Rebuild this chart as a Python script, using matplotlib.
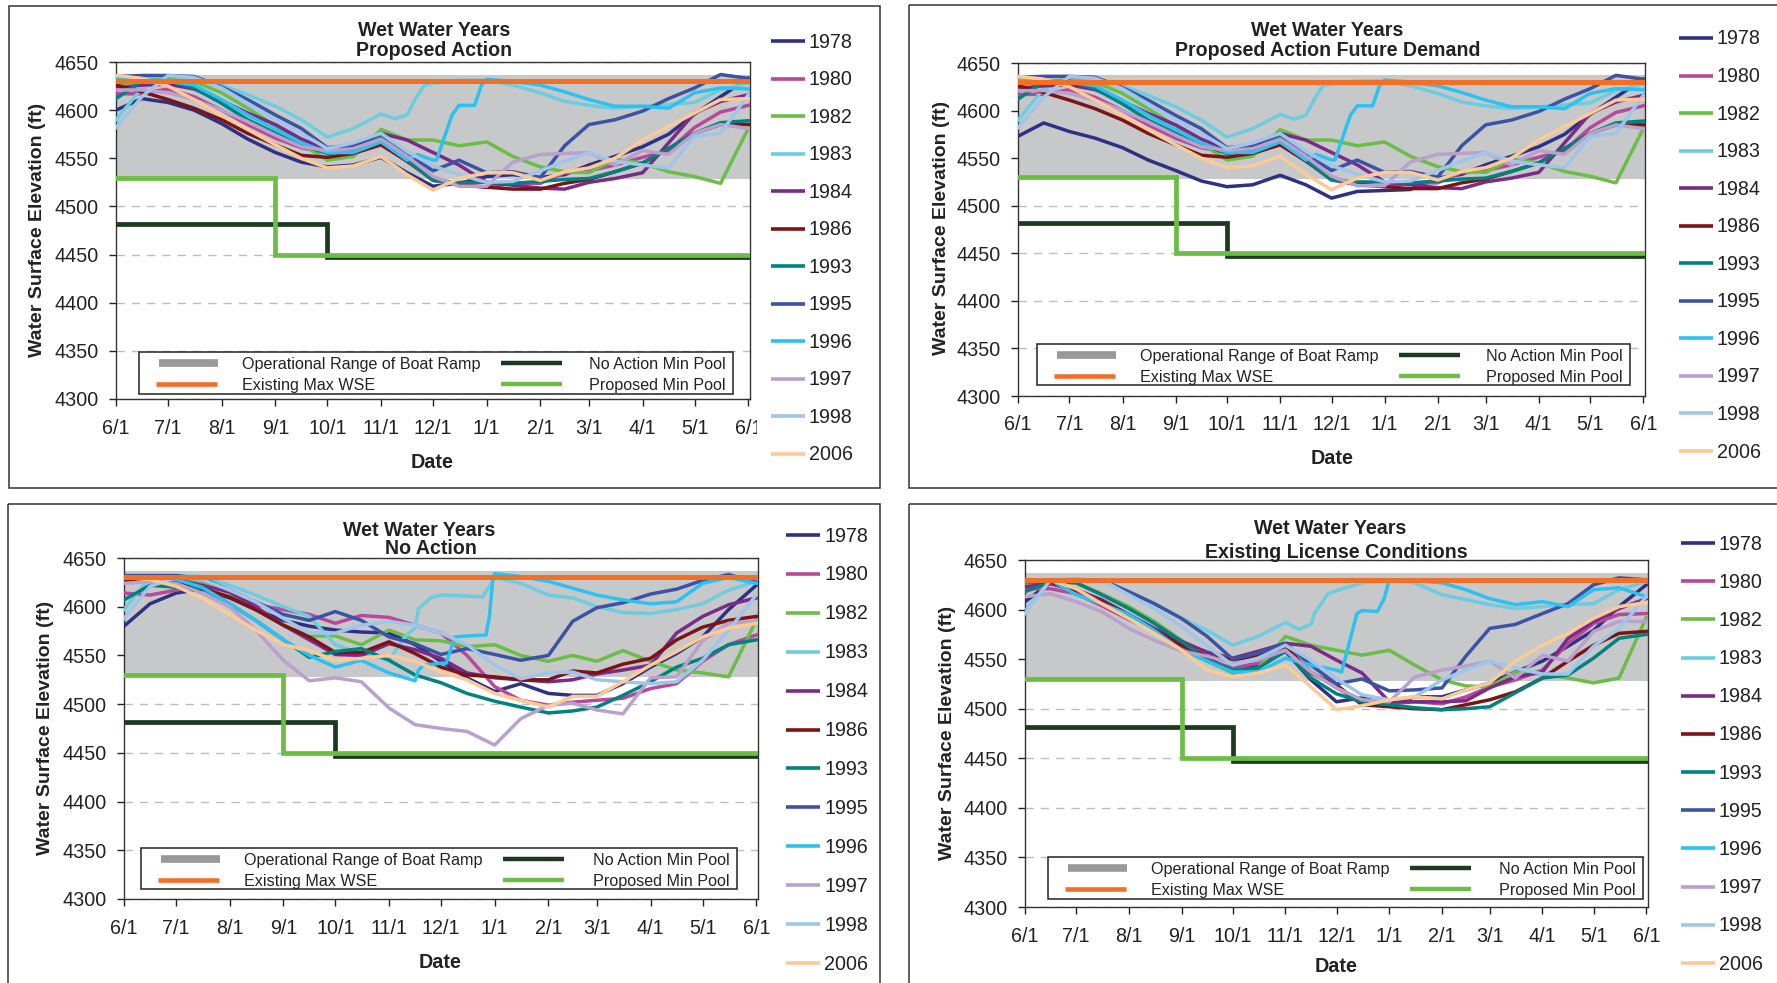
import matplotlib
matplotlib.use("Agg")
import matplotlib.pyplot as plt
from matplotlib.patches import Rectangle
from matplotlib.transforms import Bbox

plt.rcParams["font.family"] = ["Liberation Sans", "DejaVu Sans"]

W, H = 1777, 983

days = [0, 15, 30, 45, 61, 76, 92, 107, 122, 137, 153, 168, 183, 198, 214, 229, 245, 259, 273, 288, 304, 319, 334, 349, 365]
month_days = [0, 30, 61, 92, 122, 153, 183, 214, 245, 273, 304, 334, 365]
month_labels = ["6/1", "7/1", "8/1", "9/1", "10/1", "11/1", "12/1", "1/1", "2/1", "3/1", "4/1", "5/1", "6/1"]
y_ticks = [4300, 4350, 4400, 4450, 4500, 4550, 4600, 4650]

years = ["1978", "1980", "1982", "1983", "1984", "1986", "1993", "1995", "1996", "1997", "1998", "2006"]
year_colors = ["#2e3183", "#b9479b", "#6abd45", "#6dcde0", "#7b2a87", "#7d1315", "#00827e",
               "#3b53a5", "#2cc1f0", "#b9a0cd", "#9fc6ea", "#fdca96"]

# reference lines
band_low, band_high = 4528, 4637
max_wse = 4630
proposed_x = [0, 92, 92, 365]
proposed_y = [4530, 4530, 4450, 4450]
no_action_x = [0, 122, 122, 365]
no_action_y = [4482, 4482, 4447, 4447]

# Proposed Action
pa_1978 = [4600, 4612, 4608, 4600, 4586, 4570, 4556, 4546, 4541, 4543, 4551, 4535, 4521, 4524, 4531, 4533, 4530, 4533, 4543, 4552, 4562, 4575, 4596, 4614, 4633]
pa_1980 = [4617, 4617, 4622, 4614, 4600, 4585, 4571, 4561, 4556, 4556, 4566, 4547, 4527, 4522, 4520, 4524, 4524, 4535, 4537, 4543, 4551, 4558, 4582, 4598, 4605]
pa_1982 = [4627, 4630, 4633, 4630, 4618, 4602, 4584, 4565, 4548, 4552, 4580, 4569, 4569, 4563, 4567, 4552, 4541, 4536, 4535, 4549, 4545, 4536, 4531, 4524, 4581]
pa_1983 = [4590, 4623, 4635, 4634, 4626, 4616, 4604, 4590, 4572, 4581, 4596, 4591, 4595, 4612, 4626, 4628, 4631, 4631, 4626, 4618, 4609, 4605, 4602, 4604, 4606, 4608, 4621, 4628]
pa_1984 = [4623, 4626, 4627, 4622, 4610, 4597, 4585, 4570, 4559, 4562, 4576, 4569, 4556, 4543, 4525, 4522, 4519, 4518, 4525, 4529, 4535, 4566, 4597, 4609, 4616]
pa_1986 = [4626, 4619, 4611, 4602, 4590, 4576, 4564, 4553, 4551, 4555, 4564, 4547, 4529, 4523, 4520, 4518, 4518, 4524, 4528, 4536, 4545, 4560, 4576, 4585, 4585]
pa_1993 = [4612, 4630, 4631, 4623, 4607, 4590, 4576, 4564, 4555, 4559, 4572, 4548, 4527, 4525, 4525, 4524, 4526, 4528, 4529, 4536, 4545, 4560, 4576, 4587, 4589]
pa_1995 = [4635, 4636, 4636, 4635, 4624, 4611, 4595, 4581, 4561, 4564, 4576, 4555, 4537, 4548, 4535, 4536, 4530, 4563, 4585, 4590, 4599, 4612, 4623, 4637, 4633]
pa_1996 = [4633, 4632, 4630, 4626, 4611, 4595, 4580, 4566, 4556, 4556, 4567, 4548, 4554, 4548, 4548, 4595, 4605, 4605, 4626, 4632, 4630, 4626, 4619, 4611, 4604, 4604, 4602, 4618, 4623, 4622]
pa_1997 = [4621, 4621, 4618, 4611, 4600, 4588, 4574, 4562, 4558, 4560, 4570, 4552, 4531, 4521, 4521, 4546, 4554, 4555, 4556, 4543, 4558, 4554, 4576, 4585, 4581]
pa_1998 = [4582, 4614, 4636, 4634, 4623, 4607, 4590, 4576, 4560, 4566, 4576, 4557, 4542, 4533, 4525, 4526, 4537, 4547, 4556, 4547, 4543, 4540, 4573, 4576, 4616]
pa_2006 = [4636, 4633, 4625, 4611, 4595, 4580, 4564, 4550, 4540, 4542, 4552, 4533, 4517, 4529, 4535, 4535, 4527, 4536, 4540, 4550, 4569, 4583, 4597, 4611, 4612]

# Proposed Action Future Demand: only 1978 moves away from Proposed Action
pf_1978 = [4573, 4587, 4578, 4571, 4561, 4548, 4537, 4526, 4520, 4522, 4532, 4522, 4508, 4515, 4516, 4517, 4529, 4533, 4543, 4552, 4562, 4575, 4596, 4614, 4633]

# No Action
na_1978 = [4580, 4603, 4614, 4618, 4609, 4597, 4586, 4580, 4576, 4574, 4573, 4561, 4544, 4527, 4513, 4521, 4511, 4509, 4509, 4521, 4538, 4552, 4569, 4597, 4622]
na_1980 = [4614, 4612, 4617, 4622, 4617, 4602, 4597, 4592, 4583, 4591, 4589, 4581, 4573, 4550, 4518, 4504, 4499, 4502, 4504, 4506, 4516, 4521, 4544, 4561, 4571]
na_1982 = [4625, 4628, 4631, 4626, 4614, 4597, 4581, 4570, 4570, 4561, 4576, 4566, 4565, 4559, 4561, 4550, 4544, 4550, 4544, 4555, 4544, 4535, 4532, 4528, 4586]
na_1983 = [4597, 4630, 4632, 4631, 4622, 4612, 4600, 4590, 4561, 4552, 4545, 4569, 4578, 4598, 4609, 4612, 4611, 4610, 4630, 4624, 4612, 4609, 4600, 4594, 4593, 4597, 4603, 4617, 4626]
na_1984 = [4625, 4627, 4628, 4622, 4615, 4600, 4581, 4566, 4551, 4550, 4562, 4556, 4547, 4532, 4527, 4525, 4523, 4525, 4531, 4535, 4540, 4573, 4590, 4602, 4609]
na_1986 = [4627, 4628, 4626, 4619, 4610, 4597, 4581, 4569, 4553, 4553, 4564, 4552, 4538, 4530, 4528, 4525, 4525, 4534, 4532, 4541, 4547, 4566, 4579, 4586, 4590]
na_1993 = [4607, 4622, 4620, 4619, 4603, 4586, 4566, 4548, 4554, 4557, 4545, 4530, 4522, 4511, 4503, 4497, 4491, 4493, 4497, 4509, 4523, 4538, 4547, 4561, 4566]
na_1995 = [4632, 4632, 4632, 4629, 4617, 4605, 4592, 4586, 4595, 4586, 4569, 4562, 4551, 4557, 4551, 4545, 4550, 4585, 4599, 4604, 4613, 4618, 4627, 4633, 4625]
na_1996 = [4629, 4630, 4628, 4620, 4603, 4586, 4566, 4550, 4538, 4545, 4532, 4524, 4535, 4540, 4542, 4542, 4569, 4570, 4571, 4591, 4630, 4634, 4631, 4626, 4619, 4612, 4607, 4603, 4605, 4624, 4630, 4624]
na_1997 = [4624, 4626, 4624, 4614, 4600, 4576, 4545, 4524, 4527, 4523, 4496, 4479, 4475, 4472, 4458, 4485, 4499, 4501, 4494, 4490, 4527, 4528, 4565, 4583, 4585]
na_1998 = [4588, 4621, 4630, 4628, 4617, 4605, 4588, 4573, 4573, 4581, 4585, 4581, 4573, 4561, 4540, 4526, 4532, 4533, 4525, 4523, 4521, 4523, 4545, 4576, 4612]
na_2006 = [4630, 4628, 4621, 4609, 4592, 4576, 4561, 4555, 4545, 4547, 4550, 4544, 4533, 4525, 4511, 4504, 4497, 4508, 4508, 4523, 4540, 4554, 4569, 4578, 4583]

# Existing License Conditions
el_1978 = [4608, 4627, 4618, 4606, 4593, 4579, 4563, 4551, 4539, 4543, 4558, 4529, 4507, 4511, 4504, 4512, 4512, 4519, 4526, 4537, 4548, 4563, 4579, 4603, 4625]
el_1980 = [4621, 4621, 4616, 4604, 4590, 4578, 4561, 4549, 4541, 4546, 4561, 4537, 4521, 4507, 4505, 4507, 4505, 4512, 4522, 4529, 4539, 4566, 4586, 4595, 4596]
el_1982 = [4625, 4628, 4627, 4616, 4603, 4588, 4569, 4548, 4536, 4541, 4573, 4564, 4559, 4554, 4559, 4544, 4529, 4523, 4522, 4537, 4535, 4531, 4526, 4531, 4592]
el_1983 = [4598, 4630, 4631, 4629, 4618, 4606, 4591, 4579, 4564, 4573, 4587, 4580, 4585, 4596, 4606, 4616, 4619, 4627, 4630, 4627, 4615, 4610, 4605, 4601, 4603, 4605, 4606, 4620, 4628]
el_1984 = [4623, 4626, 4620, 4610, 4595, 4581, 4568, 4557, 4551, 4558, 4566, 4563, 4549, 4536, 4507, 4507, 4507, 4508, 4521, 4532, 4537, 4571, 4588, 4601, 4611]
el_1986 = [4628, 4628, 4620, 4608, 4595, 4579, 4564, 4553, 4549, 4554, 4563, 4536, 4524, 4504, 4502, 4500, 4499, 4504, 4509, 4517, 4531, 4548, 4564, 4576, 4578]
el_1993 = [4618, 4628, 4627, 4615, 4601, 4586, 4568, 4549, 4539, 4541, 4558, 4531, 4515, 4507, 4504, 4501, 4499, 4500, 4502, 4516, 4531, 4534, 4551, 4571, 4575]
el_1995 = [4630, 4630, 4630, 4630, 4618, 4606, 4591, 4573, 4550, 4556, 4566, 4544, 4525, 4530, 4518, 4519, 4521, 4553, 4581, 4585, 4596, 4606, 4625, 4632, 4630]
el_1996 = [4628, 4630, 4615, 4606, 4595, 4579, 4559, 4548, 4537, 4537, 4551, 4544, 4539, 4537, 4596, 4599, 4598, 4611, 4630, 4629, 4627, 4620, 4611, 4605, 4608, 4603, 4620, 4622, 4613]
el_1997 = [4613, 4616, 4608, 4598, 4581, 4569, 4558, 4553, 4546, 4549, 4559, 4537, 4521, 4509, 4507, 4532, 4539, 4543, 4548, 4531, 4554, 4548, 4578, 4588, 4588]
el_1998 = [4596, 4630, 4630, 4630, 4615, 4601, 4583, 4563, 4544, 4551, 4564, 4549, 4530, 4514, 4509, 4512, 4529, 4539, 4548, 4541, 4535, 4535, 4563, 4581, 4613]
el_2006 = [4630, 4630, 4621, 4606, 4591, 4576, 4559, 4539, 4532, 4536, 4544, 4522, 4499, 4503, 4509, 4512, 4510, 4519, 4526, 4548, 4564, 4576, 4591, 4603, 4607]

# the sudden winter rises of 1983 and 1996 were read on a finer set of days
pa_1983_days = days[:11] + [161, 168, 173, 178, 183] + days[13:]
pa_1996_days = days[:11] + [168, 174, 183, 185, 194, 198, 207, 211] + days[14:]
na_1983_days = days[:11] + [162, 168, 170, 177, 183, 198, 207] + days[14:]
na_1996_days = days[:11] + [168, 170, 173, 183, 186, 191, 198, 209, 211, 213] + days[14:]
el_1983_days = days[:11] + [161, 168, 170, 174, 178, 183] + days[13:]
el_1996_days = days[:12] + [183, 186, 195, 198, 207, 211] + days[14:]

pa_curves = [pa_1978, pa_1980, pa_1982, pa_1983, pa_1984, pa_1986, pa_1993, pa_1995, pa_1996, pa_1997, pa_1998, pa_2006]
pf_curves = [pf_1978] + pa_curves[1:]
na_curves = [na_1978, na_1980, na_1982, na_1983, na_1984, na_1986, na_1993, na_1995, na_1996, na_1997, na_1998, na_2006]
el_curves = [el_1978, el_1980, el_1982, el_1983, el_1984, el_1986, el_1993, el_1995, el_1996, el_1997, el_1998, el_2006]

# pixel layout of each panel, measured on the reference
panels = [
    dict(curves=pa_curves, d83=pa_1983_days, d96=pa_1996_days, name="Proposed Action",
         axes=(116, 750, 62, 399), frame=(8.5, 6, 880, 488),
         title1=(434, 31), title2=(434, 50), ylab=(38, 230), date=(432, 462), tick_y=427,
         legend=(138.5, 733, 352, 394), year_line=(771, 805), year_text=809, year_y=(41.5, 454.5)),
    dict(curves=pf_curves, d83=pa_1983_days, d96=pa_1996_days, name="Proposed Action Future Demand",
         axes=(1018, 1645, 63, 396), frame=(909, 5, 1795, 488),
         title1=(1327, 30), title2=(1328, 50), ylab=(941, 228), date=(1332, 458), tick_y=423,
         legend=(1036.5, 1630, 344, 385), year_line=(1679, 1713), year_text=1717, year_y=(38.5, 451.5)),
    dict(curves=na_curves, d83=na_1983_days, d96=na_1996_days, name="No Action",
         axes=(124, 758, 558, 899), frame=(7.5, 504, 880, 1000),
         title1=(419, 530), title2=(431, 549), ylab=(46, 728), date=(440, 962), tick_y=927,
         legend=(141, 737, 848, 889), year_line=(786, 820), year_text=824, year_y=(535.5, 963.5)),
    dict(curves=el_curves, d83=el_1983_days, d96=el_1996_days, name="Existing License Conditions",
         axes=(1025, 1648, 560, 907), frame=(909, 504, 1795, 1000),
         title1=(1330, 529), title2=(1336, 553), ylab=(947, 733), date=(1336, 966), tick_y=935,
         legend=(1048, 1643, 857, 899), year_line=(1681, 1715), year_text=1719, year_y=(543.5, 963.5)),
]

fig = plt.figure(figsize=(W / 100, H / 100), dpi=100, facecolor="white")

# overlay in reference pixels for frames, titles and legends
ov = fig.add_axes([0, 0, 1, 1], zorder=5)
ov.set_xlim(0, W)
ov.set_ylim(H, 0)
ov.axis("off")
ov.patch.set_alpha(0)


def draw_panel(p):
    x0, x1, y0, y1 = p["axes"]
    ax = fig.add_axes([x0 / W, 1 - y1 / H, (x1 - x0) / W, (y1 - y0) / H])
    ax.axhspan(band_low, band_high, color="#c7c8ca", lw=0, zorder=1)
    for year, values, color in zip(years, p["curves"], year_colors):
        xs = p["d83"] if year == "1983" else p["d96"] if year == "1996" else days
        ax.plot(xs, values, color=color, lw=2.5, zorder=3, solid_joinstyle="round")
    ax.plot(no_action_x, no_action_y, color="#1b3a1e", lw=3.4, zorder=4, solid_joinstyle="miter")
    ax.plot(proposed_x, proposed_y, color="#6cbd45", lw=3.4, zorder=5, solid_joinstyle="miter")
    ax.axhline(max_wse, color="#f26f26", lw=3.6, zorder=6)
    ax.set_xlim(0, 366)
    ax.set_ylim(4300, 4650)
    ax.set_yticks(y_ticks)
    ax.set_xticks(month_days)
    ax.set_xticklabels(month_labels)
    ax.grid(axis="y", color="#bdbdbd", ls=(0, (6, 5)), lw=1)
    ax.set_axisbelow(True)
    ax.tick_params(axis="y", labelsize=14.2, length=5, width=1, pad=7.5, colors="#222222")
    ax.tick_params(axis="x", labelsize=14.2, length=5, width=1, colors="#222222",
                   pad=(p["tick_y"] - y1 - 5 - 10) * 0.72)
    for s in ax.spines.values():
        s.set_linewidth(1)
        s.set_color("#333333")

    ov.text(p["title1"][0], p["title1"][1], "Wet Water Years", fontsize=14.1, fontweight="bold", ha="center", va="center", color="#222222")
    ov.text(p["title2"][0], p["title2"][1], p["name"], fontsize=14.1, fontweight="bold", ha="center", va="center", color="#222222")
    ov.text(p["ylab"][0], p["ylab"][1], "Water Surface Elevation (ft)", fontsize=14, fontweight="bold", rotation=90, ha="center", va="center", color="#222222")
    ov.text(p["date"][0], p["date"][1], "Date", fontsize=14.2, fontweight="bold", ha="center", va="center", color="#222222")

    fx0, fy0, fx1, fy1 = p["frame"]
    ov.add_patch(Rectangle((fx0, fy0), fx1 - fx0, fy1 - fy0, fill=False, ec="#333333", lw=1.1))

    # two column key
    lx0, lx1, ly0, ly1 = p["legend"]
    ov.add_patch(Rectangle((lx0, ly0), lx1 - lx0, ly1 - ly0, fc="white", ec="#222222", lw=1.1))
    r1, r2 = ly0 + 11, ly0 + 32
    ov.plot([lx0 + 20, lx0 + 79], [r1, r1], color="#999999", lw=5.5, solid_capstyle="butt")
    ov.plot([lx0 + 17, lx0 + 78], [r2, r2], color="#f26f26", lw=3.3, solid_capstyle="butt")
    ov.plot([lx0 + 362, lx0 + 423], [r1, r1], color="#1b3a1e", lw=3.2, solid_capstyle="butt")
    ov.plot([lx0 + 362, lx0 + 423], [r2, r2], color="#6cbd45", lw=3.2, solid_capstyle="butt")
    ov.text(lx0 + 103, r1 + 1.5, "Operational Range of Boat Ramp", fontsize=11.65, va="center", color="#222222")
    ov.text(lx0 + 103, r2 + 1.5, "Existing Max WSE", fontsize=11.65, va="center", color="#222222")
    ov.text(lx1 - 7, r1 + 1.5, "No Action Min Pool", fontsize=11.65, va="center", ha="right", color="#222222")
    ov.text(lx1 - 7, r2 + 1.5, "Proposed Min Pool", fontsize=11.65, va="center", ha="right", color="#222222")

    # year key down the right side
    top, bottom = p["year_y"]
    step = (bottom - top) / (len(years) - 1)
    for i, (year, color) in enumerate(zip(years, year_colors)):
        yy = top + i * step
        ov.plot(p["year_line"], [yy - 0.5, yy - 0.5], color=color, lw=2.6, solid_capstyle="butt")
        ov.text(p["year_text"], yy + 0.5, year, fontsize=14.2, va="center", color="#222222")
    return ax


axes = [draw_panel(p) for p in panels]

# the last date label is cut off in the first panel
last = axes[0].get_xticklabels()[-1]
last.set_clip_on(True)
last.set_clip_box(Bbox([[0, 0], [757, H]]))

fig.savefig("out.png", dpi=100)
